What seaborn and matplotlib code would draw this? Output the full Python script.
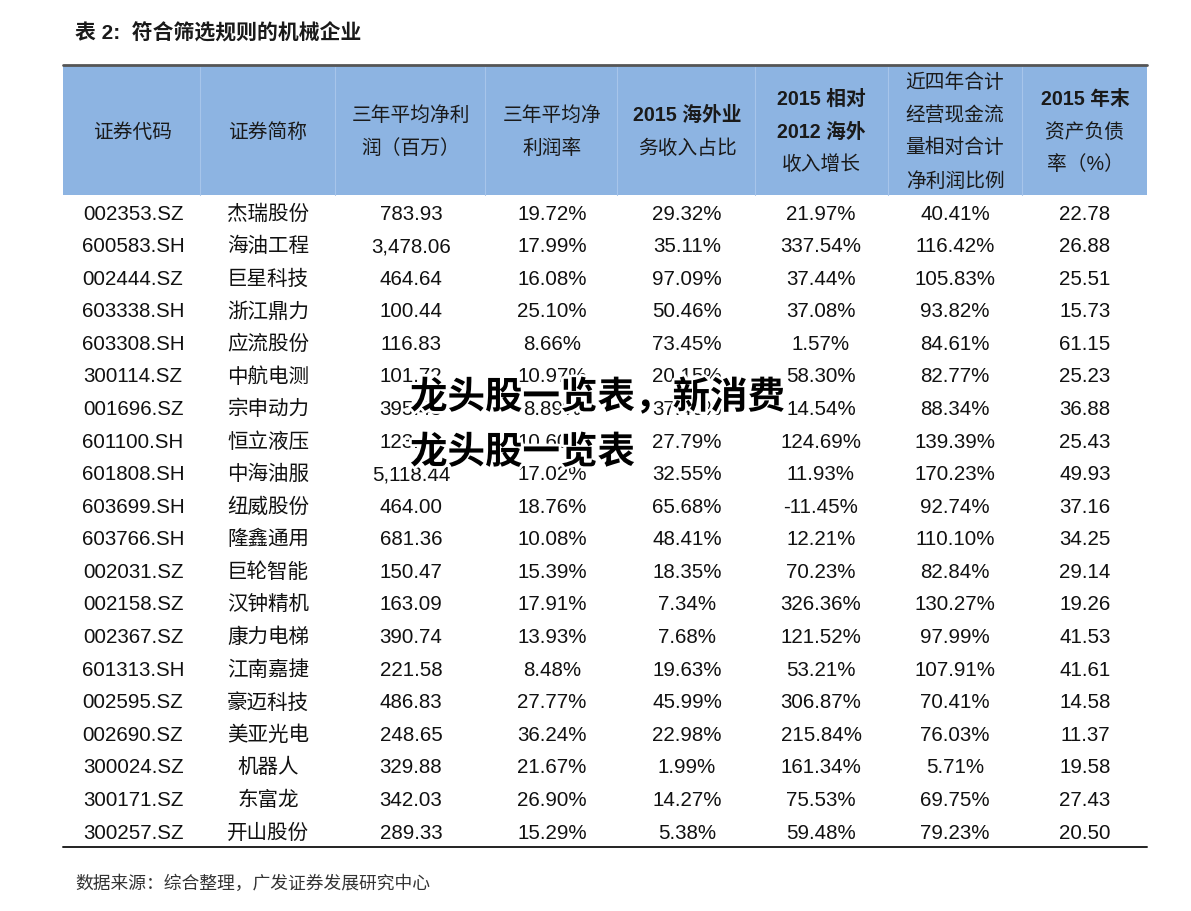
import matplotlib.pyplot as plt
import matplotlib.patheffects as pe
import seaborn as sns

sns.set_style("white")
plt.rcParams['font.family'] = ['Liberation Sans', 'Noto Sans CJK SC', 'DejaVu Sans']

title = "表 2:  符合筛选规则的机械企业"
source = "数据来源：综合整理，广发证券发展研究中心"
watermark = ["龙头股一览表，新消费", "龙头股一览表"]

headers = [
    ["证券代码"],
    ["证券简称"],
    ["三年平均净利", "润（百万）"],
    ["三年平均净", "利润率"],
    ["2015 海外业", "务收入占比"],
    ["2015 相对", "2012 海外", "收入增长"],
    ["近四年合计", "经营现金流", "量相对合计", "净利润比例"],
    ["2015 年末", "资产负债", "率（%）"],
]

codes = ["002353.SZ", "600583.SH", "002444.SZ", "603338.SH", "603308.SH",
         "300114.SZ", "001696.SZ", "601100.SH", "601808.SH", "603699.SH",
         "603766.SH", "002031.SZ", "002158.SZ", "002367.SZ", "601313.SH",
         "002595.SZ", "002690.SZ", "300024.SZ", "300171.SZ", "300257.SZ"]
names = ["杰瑞股份", "海油工程", "巨星科技", "浙江鼎力", "应流股份",
         "中航电测", "宗申动力", "恒立液压", "中海油服", "纽威股份",
         "隆鑫通用", "巨轮智能", "汉钟精机", "康力电梯", "江南嘉捷",
         "豪迈科技", "美亚光电", "机器人", "东富龙", "开山股份"]
profit = [783.93, 3478.06, 464.64, 100.44, 116.83, 101.72, 395.45, 123.68,
          5118.44, 464.00, 681.36, 150.47, 163.09, 390.74, 221.58, 486.83,
          248.65, 329.88, 342.03, 289.33]
margin = [19.72, 17.99, 16.08, 25.10, 8.66, 10.97, 8.89, 10.60, 17.02, 18.76,
          10.08, 15.39, 17.91, 13.93, 8.48, 27.77, 36.24, 21.67, 26.90, 15.29]
overseas_share = [29.32, 35.11, 97.09, 50.46, 73.45, 20.15, 37.46, 27.79,
                  32.55, 65.68, 48.41, 18.35, 7.34, 7.68, 19.63, 45.99,
                  22.98, 1.99, 14.27, 5.38]
overseas_growth = [21.97, 337.54, 37.44, 37.08, 1.57, 58.30, 14.54, 124.69,
                   11.93, -11.45, 12.21, 70.23, 326.36, 121.52, 53.21, 306.87,
                   215.84, 161.34, 75.53, 59.48]
cash_ratio = [40.41, 116.42, 105.83, 93.82, 84.61, 82.77, 88.34, 139.39,
              170.23, 92.74, 110.10, 82.84, 130.27, 97.99, 107.91, 70.41,
              76.03, 5.71, 69.75, 79.23]
debt_ratio = [22.78, 26.88, 25.51, 15.73, 61.15, 25.23, 36.88, 25.43, 49.93,
              37.16, 34.25, 29.14, 19.26, 41.53, 41.61, 14.58, 11.37, 19.58,
              27.43, 20.50]

columns = [
    codes,
    names,
    [f"{v:,.2f}" for v in profit],
    [f"{v:.2f}%" for v in margin],
    [f"{v:.2f}%" for v in overseas_share],
    [f"{v:.2f}%" for v in overseas_growth],
    [f"{v:.2f}%" for v in cash_ratio],
    [f"{v:.2f}" for v in debt_ratio],
]

# layout in pixel space
W, H = 1191, 911
col_x = [133, 268, 411, 552, 687, 821, 955, 1085]
col_edges = [63, 200, 335, 485, 617, 755, 888, 1022, 1147]
left, right = 63, 1147
head_top, head_bot = 65, 195
row0, row_step = 212, 32.58
line_step = 32.8
header_bg = "#8DB4E2"
grid_c = "#A7C5EA"

fig = plt.figure(figsize=(W / 100, H / 100), dpi=100)
ax = fig.add_axes([0, 0, 1, 1])
ax.set_xlim(0, W)
ax.set_ylim(H, 0)
ax.axis("off")

ax.text(75, 31, title, fontsize=15, fontweight="bold", va="center_baseline",
        ha="left", color="#1a1a1a")

ax.add_patch(plt.Rectangle((left, head_top), right - left, head_bot - head_top,
                           facecolor=header_bg, edgecolor="none", zorder=0))
for xe in col_edges[1:-1]:
    ax.plot([xe, xe], [head_top + 2, head_bot], color=grid_c, lw=0.8, zorder=1)
ax.plot([left, right], [head_top, head_top], color="#555555", lw=2, zorder=2)

for cx, lines in zip(col_x, headers):
    n = len(lines)
    mid = (head_top + head_bot) / 2
    for i, txt in enumerate(lines):
        y = mid + (i - (n - 1) / 2) * line_step
        bold = txt[:2].isdigit()
        ax.text(cx, y, txt, fontsize=14.2, ha="center", va="center_baseline",
                fontweight="bold" if bold else "normal", color="#1a1a1a")

for cx, vals in zip(col_x, columns):
    for r, v in enumerate(vals):
        ax.text(cx, row0 + r * row_step, v, fontsize=14.8, ha="center",
                va="center_baseline", color="#111111")

ax.plot([left, right], [847, 847], color="#222222", lw=1.4)

ax.text(75, 882, source, fontsize=12.8, ha="left", va="center_baseline",
        color="#333333")

wm_fx = [pe.withStroke(linewidth=4, foreground="white")]
ax.text(410, 397, watermark[0], fontsize=27, fontweight="bold", ha="left",
        va="center", color="black", family=["Noto Sans CJK SC", "DejaVu Sans"],
        path_effects=wm_fx, zorder=5)
ax.text(410, 452, watermark[1], fontsize=27, fontweight="bold", ha="left",
        va="center", color="black", family=["Noto Sans CJK SC", "DejaVu Sans"],
        path_effects=wm_fx, zorder=5)

fig.savefig("out.png", dpi=100)
